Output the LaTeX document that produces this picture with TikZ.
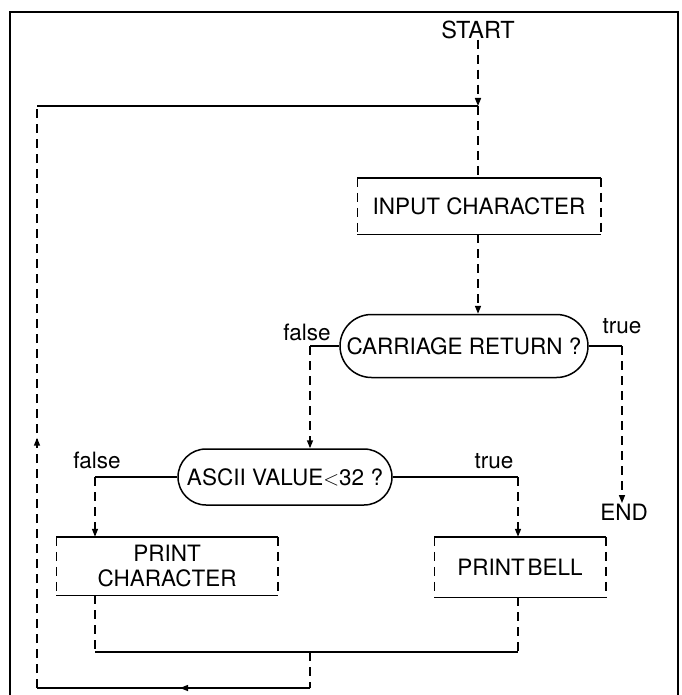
\documentclass[tikz,border=0pt]{standalone}
\usepackage{fontspec}
\setmainfont{TeX Gyre Heros}
\usetikzlibrary{arrows.meta,shapes.misc,decorations.markings}
\newcommand\sdbox[1]{%
  \draw (#1.north west) -- (#1.north east);
  \draw (#1.south west) -- (#1.south east);
  \draw[dashed] (#1.north west) -- (#1.south west);
  \draw[dashed] (#1.north east) -- (#1.south east);}
\begin{document}
\begin{tikzpicture}[x=1pt,y=-1pt,line width=1.5pt,
  font=\fontsize{22.5}{25}\selectfont,
  dashed/.style={dash pattern=on 9pt off 6pt},
  tip/.style={-{Triangle[length=8pt,width=6pt]}},
  midarrow/.style={postaction={decorate},decoration={markings,
     mark=at position #1 with {\arrow{Triangle[length=8pt,width=6pt]}}}},
  procbox/.style={inner sep=0pt,align=center},
  decision/.style={draw,rounded rectangle,inner sep=0pt},
  lbl/.style={inner sep=0pt}]
\useasboundingbox (0,0) rectangle (681,695);
\clip (0,0) rectangle (681,695);
% frame
\draw (10,720) -- (10,12) -- (678,12) -- (678,720);

\node[lbl,font=\fontsize{23.5}{25}\selectfont] (start) at (478,30) {START};
\node[procbox,minimum width=242pt,minimum height=55pt] (inp) at (479,206) {INPUT CHARACTER};
\node[decision,minimum width=248pt,minimum height=63pt] (cr) at (464,346) {CARRIAGE RETURN ?};
\node[lbl] (f1) at (307,332) {false};
\node[lbl] (t1) at (622,326) {true};
\node[lbl] (end) at (624,512) {END};
\node[decision,minimum width=214pt,minimum height=56pt] (asc) at (285,477) {ASCII VALUE$<$32 ?};
\node[lbl] (f2) at (97,460) {false};
\node[lbl] (t2) at (494,461) {true};
\node[procbox,minimum width=220pt,minimum height=57pt] (pc) at (167,566) {PRINT\\CHARACTER};
\node[procbox,minimum width=170pt,minimum height=59pt] (pb) at (520,567) {{\spaceskip=0.12em PRINT BELL}};
\sdbox{inp}
\sdbox{pc}
\sdbox{pb}

\coordinate (j1) at (478,106);
\coordinate (lt) at (37,106);
\coordinate (lb) at (37,688);
\coordinate (bm) at (310,688);
\coordinate (mm) at (310,652);
\coordinate (cf) at (310,346);
\coordinate (ct) at (622,346);
\coordinate (af) at (95,477);
\coordinate (at) at (518,477);
\coordinate (mpc) at (95,652);
\coordinate (mpb) at (518,652);

\draw[dashed,tip] (start) -- (j1);
\draw[dashed] (j1) -- (j1 |- inp.north);
\draw (lt) -- (j1);
\draw[dashed,tip] (j1 |- inp.south) -- (j1 |- cr.north);
\draw (cr.west) -- (cf);
\draw[dashed,tip] (cf) -- (cf |- asc.north);
\draw (cr.east) -- (ct);
\draw[dashed,tip] (ct) -- (ct |- end.north);
\draw (asc.west) -- (af);
\draw[dashed,tip] (af) -- (af |- pc.north);
\draw (asc.east) -- (at);
\draw[dashed,tip] (at) -- (at |- pb.north);
\draw[dashed] (af |- pc.south) -- (mpc);
\draw[dashed] (at |- pb.south) -- (mpb);
\draw (mpc) -- (mpb);
\draw[dashed] (mm) -- (bm);
\draw[midarrow=0.476] (bm) -- (lb);
\draw[dashed,midarrow=0.43] (lb) -- (lt);
\end{tikzpicture}
\end{document}
